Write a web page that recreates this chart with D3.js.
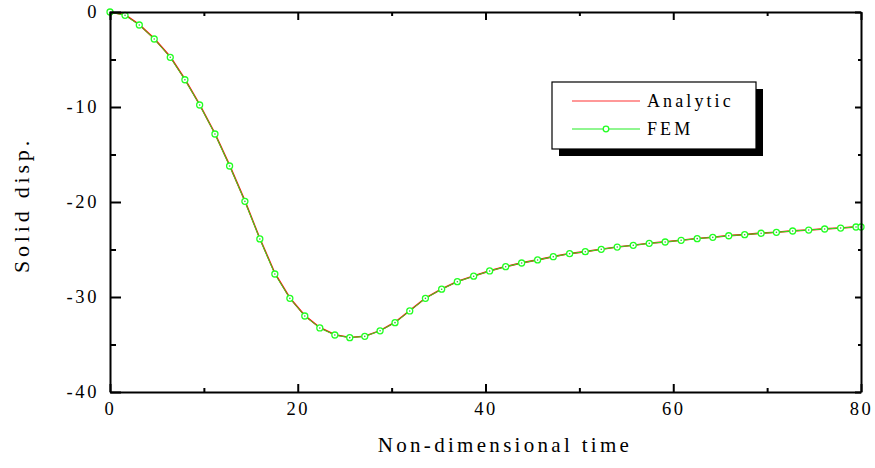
<!DOCTYPE html>
<html>
<head>
<meta charset="utf-8">
<script src="https://cdn.jsdelivr.net/npm/d3@7"></script>
<style>
  body { margin: 0; background: #fff; }
  text { font-family: "Liberation Serif", "Times New Roman", serif; fill: #000; }
</style>
</head>
<body>
<div class="container"></div>
<script>
"use strict";

var width = 875;
var height = 468;

// Sample times (non-dimensional) and solid displacement
var femTime = [0, 1.6, 3.12, 4.71, 6.42, 7.98, 9.55, 11.18, 12.74, 14.37,
    15.96, 17.56, 19.16, 20.75, 22.35, 23.95, 25.54, 27.14, 28.77, 30.36,
    31.93, 33.6, 35.33, 37.0, 38.74, 40.44, 42.15, 43.85, 45.55, 47.22,
    48.96, 50.63, 52.33, 54.03, 55.74, 57.44, 59.14, 60.84, 62.55, 64.21,
    65.91, 67.61, 69.36, 70.99, 72.72, 74.43, 76.13, 77.83, 79.47, 80];
var femDisp = [0, -0.35, -1.37, -2.84, -4.77, -7.13, -9.79, -12.84, -16.21, -19.93,
    -23.89, -27.58, -30.14, -32.0, -33.26, -34.0, -34.28, -34.14, -33.56, -32.7,
    -31.47, -30.14, -29.18, -28.39, -27.81, -27.26, -26.81, -26.42, -26.1, -25.76,
    -25.44, -25.23, -24.98, -24.74, -24.56, -24.35, -24.21, -24.03, -23.86, -23.72,
    -23.55, -23.44, -23.29, -23.19, -23.05, -22.95, -22.84, -22.74, -22.63, -22.63];

// The analytic curve sits right under the FEM one
var analyticTime = femTime;
var analyticDisp = [0, -0.3, -1.33, -2.8, -4.72, -7.08, -9.74, -12.8, -16.15, -19.88,
    -23.84, -27.5, -30.1, -31.96, -33.22, -33.97, -34.26, -34.13, -33.54, -32.66,
    -31.44, -30.12, -29.16, -28.38, -27.8, -27.25, -26.8, -26.41, -26.09, -25.75,
    -25.43, -25.22, -24.97, -24.73, -24.55, -24.34, -24.2, -24.02, -23.85, -23.71,
    -23.54, -23.43, -23.28, -23.18, -23.04, -22.94, -22.83, -22.73, -22.62, -22.62];

var xTicks = [0, 20, 40, 60, 80];
var yTicks = [0, -10, -20, -30, -40];
var legendNames = ["Analytic", "FEM"];

var margin = {left: 110, top: 12, right: 14, bottom: 76};
var plotW = width - margin.left - margin.right;
var plotH = height - margin.top - margin.bottom;

var x = d3.scaleLinear().domain([0, 80]).range([0, plotW]);
var y = d3.scaleLinear().domain([-40, 0]).range([plotH, 0]);

var svg = d3.select(".container").append("svg")
    .attr("width", width)
    .attr("height", height);

var g = svg.append("g")
    .attr("transform", "translate(" + margin.left + "," + margin.top + ")");

// Curves
var analytic = analyticTime.map((t, i) => [t, analyticDisp[i]]);
var fem = femTime.map((t, i) => [t, femDisp[i]]);

var line = d3.line()
    .x(d => x(d[0]))
    .y(d => y(d[1]));

g.append("path")
    .datum(analytic)
    .attr("fill", "none")
    .attr("stroke", "#ff0000")
    .attr("stroke-width", 1.6)
    .attr("d", line);

g.append("path")
    .datum(fem)
    .attr("fill", "none")
    .attr("stroke", "#22ee22")
    .attr("stroke-width", 1)
    .attr("d", line);

var markers = g.selectAll(".fem-marker")
    .data(fem)
    .enter().append("g")
    .attr("class", "fem-marker")
    .attr("transform", d => "translate(" + x(d[0]) + "," + y(d[1]) + ")");
markers.append("circle")
    .attr("r", 3)
    .attr("fill", "#fff")
    .attr("stroke", "#22ff22")
    .attr("stroke-width", 1.3);
markers.append("circle")
    .attr("r", 0.8)
    .attr("fill", "#33aa33");

// Axes: a frame with inward ticks on all four sides
var axisStyle = (sel) => {
    sel.attr("font-family", null).attr("font-size", null);
    sel.select(".domain").attr("stroke", "#000").attr("stroke-width", 2);
    sel.selectAll(".tick line").attr("stroke", "#000").attr("stroke-width", 2);
    sel.selectAll("text")
        .attr("font-size", 18.5)
        .attr("letter-spacing", 2.6);
};

var xMinor = d3.range(0, 81, 10);
var yMinor = d3.range(-40, 1, 5);

// bottom
var axisB = g.append("g").attr("transform", "translate(0," + plotH + ")")
    .call(d3.axisBottom(x).tickValues(xMinor).tickSizeOuter(0).tickSizeInner(0)
        .tickPadding(10).tickFormat(d => xTicks.indexOf(d) >= 0 ? d : ""));
axisStyle(axisB);
axisB.selectAll(".tick line")
    .attr("y2", d => xTicks.indexOf(d) >= 0 ? -8 : -4);

// top
var axisT = g.append("g")
    .call(d3.axisTop(x).tickValues(xMinor).tickSizeOuter(0).tickSizeInner(0).tickFormat(""));
axisStyle(axisT);
axisT.selectAll(".tick line")
    .attr("y2", d => xTicks.indexOf(d) >= 0 ? 8 : 4);

// left
var axisL = g.append("g")
    .call(d3.axisLeft(y).tickValues(yMinor).tickSizeOuter(0).tickSizeInner(0)
        .tickPadding(11).tickFormat(d => yTicks.indexOf(d) >= 0 ? d : ""));
axisStyle(axisL);
axisL.selectAll(".tick line")
    .attr("x2", d => yTicks.indexOf(d) >= 0 ? 11 : 6);

// right
var axisR = g.append("g").attr("transform", "translate(" + plotW + ",0)")
    .call(d3.axisRight(y).tickValues(yMinor).tickSizeOuter(0).tickSizeInner(0).tickFormat(""));
axisStyle(axisR);
axisR.selectAll(".tick line")
    .attr("x2", d => yTicks.indexOf(d) >= 0 ? -6 : -3);

// Axis titles
svg.append("text")
    .attr("x", 505)
    .attr("y", 452)
    .attr("text-anchor", "middle")
    .attr("font-size", 21)
    .attr("letter-spacing", 3.3)
    .text("Non-dimensional time");

svg.append("text")
    .attr("transform", "translate(29,205) rotate(-90)")
    .attr("text-anchor", "middle")
    .attr("font-size", 22)
    .attr("letter-spacing", 3.8)
    .text("Solid disp.");

// Legend with drop shadow
var legend = svg.append("g").attr("transform", "translate(552,82)");
legend.append("rect")
    .attr("x", 7).attr("y", 7)
    .attr("width", 204).attr("height", 67)
    .attr("fill", "#000");
legend.append("rect")
    .attr("width", 204).attr("height", 67)
    .attr("fill", "#fff")
    .attr("stroke", "#000")
    .attr("stroke-width", 1.2);

var legendColors = ["#ff3333", "#22ee22"];
legendNames.forEach((name, i) => {
    var ly = 19 + i * 28;
    legend.append("line")
        .attr("x1", 20).attr("x2", 88)
        .attr("y1", ly).attr("y2", ly)
        .attr("stroke", legendColors[i])
        .attr("stroke-width", 1.2);
    if (i === 1) {
        legend.append("circle")
            .attr("cx", 54).attr("cy", ly).attr("r", 2.8)
            .attr("fill", "#fff")
            .attr("stroke", "#22ff22")
            .attr("stroke-width", 1.3);
    }
    legend.append("text")
        .attr("x", 95)
        .attr("y", ly + 6)
        .attr("font-size", 18)
        .attr("letter-spacing", 3.1)
        .text(name);
});
</script>
</body>
</html>
